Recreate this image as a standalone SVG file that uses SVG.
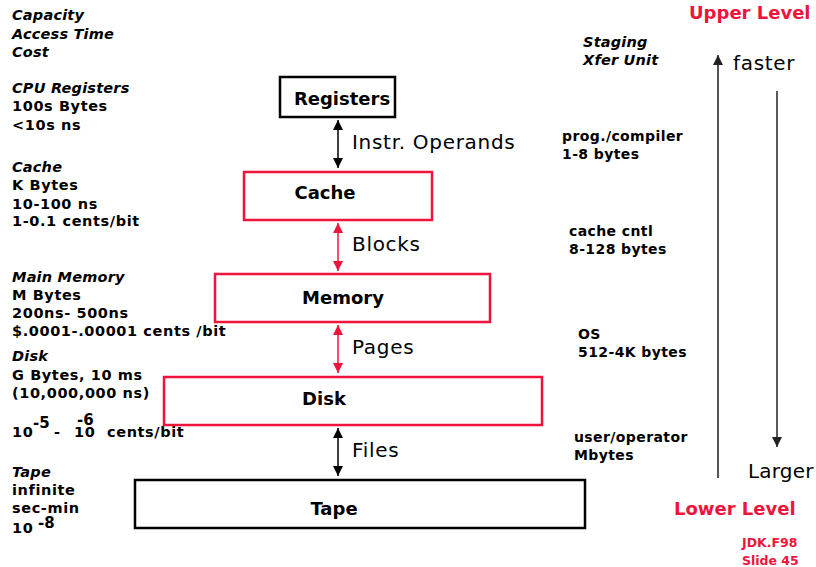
<svg xmlns="http://www.w3.org/2000/svg" width="816" height="567" viewBox="0 0 816 567">
<style>
text{font-family:"DejaVu Sans","Liberation Sans",sans-serif;fill:#000}
.lb{font-weight:bold;font-size:14.5px;letter-spacing:0.6px}
.li{font-weight:bold;font-style:italic;font-size:14.5px;letter-spacing:0.2px}
.rb{font-weight:bold;font-size:14px;letter-spacing:0.4px}
.node{font-weight:bold;font-size:18px;text-anchor:middle}
.edge{font-size:20px;letter-spacing:0.7px}
.red{fill:#f0143c}
.bx{fill:#fff;stroke-width:2.5}
.bk{stroke:#000}
.rd{stroke:#f0143c}
.sup{font-size:15px;letter-spacing:0}
</style>
<defs>
<marker id="ab" markerUnits="userSpaceOnUse" markerWidth="10" markerHeight="12" viewBox="0 0 10 12" refX="10" refY="6" orient="auto-start-reverse"><path d="M0,1 L10,6 L0,11 Z" fill="#000"/></marker>
<marker id="ar" markerUnits="userSpaceOnUse" markerWidth="10" markerHeight="12" viewBox="0 0 10 12" refX="10" refY="6" orient="auto-start-reverse"><path d="M0,1 L10,6 L0,11 Z" fill="#f0143c"/></marker>
<marker id="ag" markerUnits="userSpaceOnUse" markerWidth="10" markerHeight="12" viewBox="0 0 10 12" refX="10" refY="6" orient="auto-start-reverse"><path d="M0,1 L10,6 L0,11 Z" fill="#222"/></marker>
</defs>

<g id="left-text">
<text class="li" x="12" y="20">Capacity</text>
<text class="li" x="12" y="39">Access Time</text>
<text class="li" x="12" y="57">Cost</text>
<text class="li" x="12" y="93">CPU Registers</text>
<text class="lb" x="12" y="111">100s Bytes</text>
<text class="lb" x="12" y="130">&lt;10s ns</text>
<text class="li" x="12" y="172">Cache</text>
<text class="lb" x="12" y="190">K Bytes</text>
<text class="lb" x="12" y="209">10-100 ns</text>
<text class="lb" x="12" y="226">1-0.1 cents/bit</text>
<text class="li" x="12" y="282">Main Memory</text>
<text class="lb" x="12" y="300">M Bytes</text>
<text class="lb" x="12" y="318">200ns- 500ns</text>
<text class="lb" x="12" y="336">$.0001-.00001 cents /bit</text>
<text class="li" x="12" y="361">Disk</text>
<text class="lb" x="12" y="380">G Bytes, 10 ms</text>
<text class="lb" x="12" y="398">(10,000,000 ns)</text>
<text class="lb" x="12" y="437">10</text>
<text class="lb sup" x="33" y="428">-5</text>
<text class="lb" x="54" y="437">-</text>
<text class="lb" x="74" y="437">10</text>
<text class="lb sup" x="77" y="425">-6</text>
<text class="lb" x="107" y="437">cents/bit</text>
<text class="li" x="12" y="477">Tape</text>
<text class="lb" x="12" y="495">infinite</text>
<text class="lb" x="12" y="513">sec-min</text>
<text class="lb" x="12" y="533">10</text>
<text class="lb sup" x="38" y="528">-8</text>
</g>

<g id="right-text">
<text class="li" x="583" y="47">Staging</text>
<text class="li" x="583" y="65">Xfer Unit</text>
<text class="rb" x="562" y="141">prog./compiler</text>
<text class="rb" x="562" y="159">1-8 bytes</text>
<text class="rb" x="569" y="236">cache cntl</text>
<text class="rb" x="569" y="254">8-128 bytes</text>
<text class="rb" x="578" y="339">OS</text>
<text class="rb" x="578" y="357">512-4K bytes</text>
<text class="rb" x="574" y="442">user/operator</text>
<text class="rb" x="574" y="460">Mbytes</text>
<text class="red" x="689" y="19" style="font-weight:bold;font-size:18px">Upper Level</text>
<text class="edge" x="733" y="70">faster</text>
<text class="edge" x="748" y="478" style="letter-spacing:0.2px">Larger</text>
<text class="red" x="674" y="515" style="font-weight:bold;font-size:18px">Lower Level</text>
<text class="red" x="742" y="547" style="font-weight:bold;font-size:12.5px">JDK.F98</text>
<text class="red" x="742" y="565" style="font-weight:bold;font-size:12.5px">Slide 45</text>
</g>

<g id="connectors">
<line x1="338" y1="120" x2="338" y2="168" stroke="#000" stroke-width="1.5" marker-start="url(#ab)" marker-end="url(#ab)"/>
<line x1="338" y1="223" x2="338" y2="271" stroke="#f0143c" stroke-width="1.5" marker-start="url(#ar)" marker-end="url(#ar)"/>
<line x1="338" y1="325" x2="338" y2="373" stroke="#f0143c" stroke-width="1.5" marker-start="url(#ar)" marker-end="url(#ar)"/>
<line x1="338" y1="428" x2="338" y2="476" stroke="#000" stroke-width="1.5" marker-start="url(#ab)" marker-end="url(#ab)"/>
<text class="edge" x="352" y="149">Instr. Operands</text>
<text class="edge" x="352" y="251">Blocks</text>
<text class="edge" x="352" y="354">Pages</text>
<text class="edge" x="352" y="457">Files</text>
<line x1="718" y1="478" x2="718" y2="55" stroke="#555" stroke-width="2" marker-end="url(#ag)"/>
<line x1="777" y1="91" x2="777" y2="447" stroke="#000" stroke-width="1.3" marker-end="url(#ag)"/>
</g>

<g id="registers">
<rect class="bx bk" x="280" y="77" width="115" height="40"/>
<text class="node" x="342" y="105">Registers</text>
</g>
<g id="cache">
<rect class="bx rd" x="244" y="172" width="188" height="48"/>
<text class="node" x="325" y="199">Cache</text>
</g>
<g id="memory">
<rect class="bx rd" x="215" y="274" width="275" height="48"/>
<text class="node" x="343" y="304">Memory</text>
</g>
<g id="disk">
<rect class="bx rd" x="164" y="377" width="378" height="48"/>
<text class="node" x="324" y="405">Disk</text>
</g>
<g id="tape">
<rect class="bx bk" x="135" y="480" width="450" height="48"/>
<text class="node" x="334" y="515">Tape</text>
</g>
</svg>
